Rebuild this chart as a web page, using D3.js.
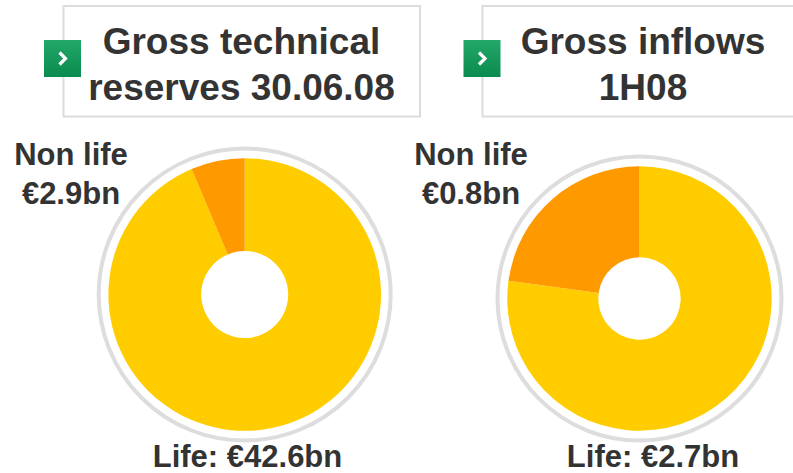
<!DOCTYPE html>
<html><head><meta charset="utf-8">
<script src="https://cdn.jsdelivr.net/npm/d3@7"></script>
<style>
html,body{margin:0;padding:0;background:#fff;overflow:hidden;}
svg{display:block;}
svg text{font-family:'Liberation Sans', Arimo, Arial, Helvetica, sans-serif;font-weight:700;}
</style></head>
<body>
<svg id="chart" width="793" height="473"></svg>
<script>
// Data
const categories = ["Life", "Non life"];
const reservesValues = [42.6, 2.9];   // €bn, Gross technical reserves 30.06.08
const inflowValues = [2.7, 0.8];      // €bn, Gross inflows 1H08
const titles = [["Gross technical", "reserves 30.06.08"], ["Gross inflows", "1H08"]];
const nonLifeLabels = [["Non life", "€2.9bn"], ["Non life", "€0.8bn"]];
const lifeLabels = ["Life: €42.6bn", "Life: €2.7bn"];

const FONT = "'Liberation Sans', Arimo, Arial, Helvetica, sans-serif";
const svg = d3.select("#chart");
const colors = d3.scaleOrdinal().domain(categories).range(["#FFCC00", "#FF9900"]);

const panels = [
  {values: reservesValues, title: titles[0], nl: nonLifeLabels[0], life: lifeLabels[0],
   cx: 244.7, cy: 294.5, r: 136.3, ir: 43.5, ring: 146, box: [63.5, 6, 356.5, 110.5], icon: [44, 40],
   titleX: 241.5, nlX: 71, lifeX: 247.5},
  {values: inflowValues, title: titles[1], nl: nonLifeLabels[1], life: lifeLabels[1],
   cx: 639.5, cy: 298.5, r: 132.2, ir: 41.2, ring: 142, box: [482.5, 6, 322, 110.5], icon: [463.5, 40],
   titleX: 643, nlX: 471, lifeX: 653}
];

const defs = svg.append("defs");
const grad = defs.append("linearGradient").attr("id", "g").attr("x1", 0).attr("y1", 0).attr("x2", 0).attr("y2", 1);
grad.append("stop").attr("offset", "0%").attr("stop-color", "#22a86a");
grad.append("stop").attr("offset", "100%").attr("stop-color", "#0b8a4e");

panels.forEach(p => {
  svg.append("rect").attr("x", p.box[0]).attr("y", p.box[1]).attr("width", p.box[2]).attr("height", p.box[3])
    .attr("fill", "#fff").attr("stroke", "#dcdcdc").attr("stroke-width", 2);
  svg.append("rect").attr("x", p.icon[0]).attr("y", p.icon[1]).attr("width", 37).attr("height", 37)
    .attr("fill", "url(#g)");
  // chevron
  const ix = p.icon[0] + 18.5, iy = p.icon[1] + 18.5;
  svg.append("path").attr("d", `M${ix - 3},${iy - 6} L${ix + 3},${iy} L${ix - 3},${iy + 6}`)
    .attr("fill", "none").attr("stroke", "#fff").attr("stroke-width", 3.2);
  const t = svg.append("text").attr("text-anchor", "middle").attr("fill", "#333")
    .attr("font-family", FONT).attr("font-weight", "bold").attr("font-size", 37);
  p.title.forEach((line, i) => t.append("tspan").attr("x", p.titleX).attr("y", 54 + i * 45.5).text(line));

  const g = svg.append("g").attr("transform", `translate(${p.cx},${p.cy})`);
  g.append("circle").attr("r", p.ring).attr("fill", "none").attr("stroke", "#dddddd").attr("stroke-width", 4);
  const pie = d3.pie().sort(null).value(d => d)(p.values);
  const arc = d3.arc().innerRadius(p.ir).outerRadius(p.r);
  g.selectAll("path").data(pie).join("path")
    .attr("d", arc).attr("fill", (d, i) => colors(categories[i]));

  const nl = svg.append("text").attr("text-anchor", "middle").attr("fill", "#333")
    .attr("font-family", FONT).attr("font-weight", "bold").attr("font-size", 31);
  p.nl.forEach((line, i) => nl.append("tspan").attr("x", p.nlX).attr("y", 165 + i * 39).text(line));
  svg.append("text").attr("x", p.lifeX).attr("y", 467).attr("text-anchor", "middle")
    .attr("font-family", FONT).attr("font-weight", "bold")
    .attr("fill", "#333").attr("font-size", 31).text(p.life);
});
</script>
</body></html>
